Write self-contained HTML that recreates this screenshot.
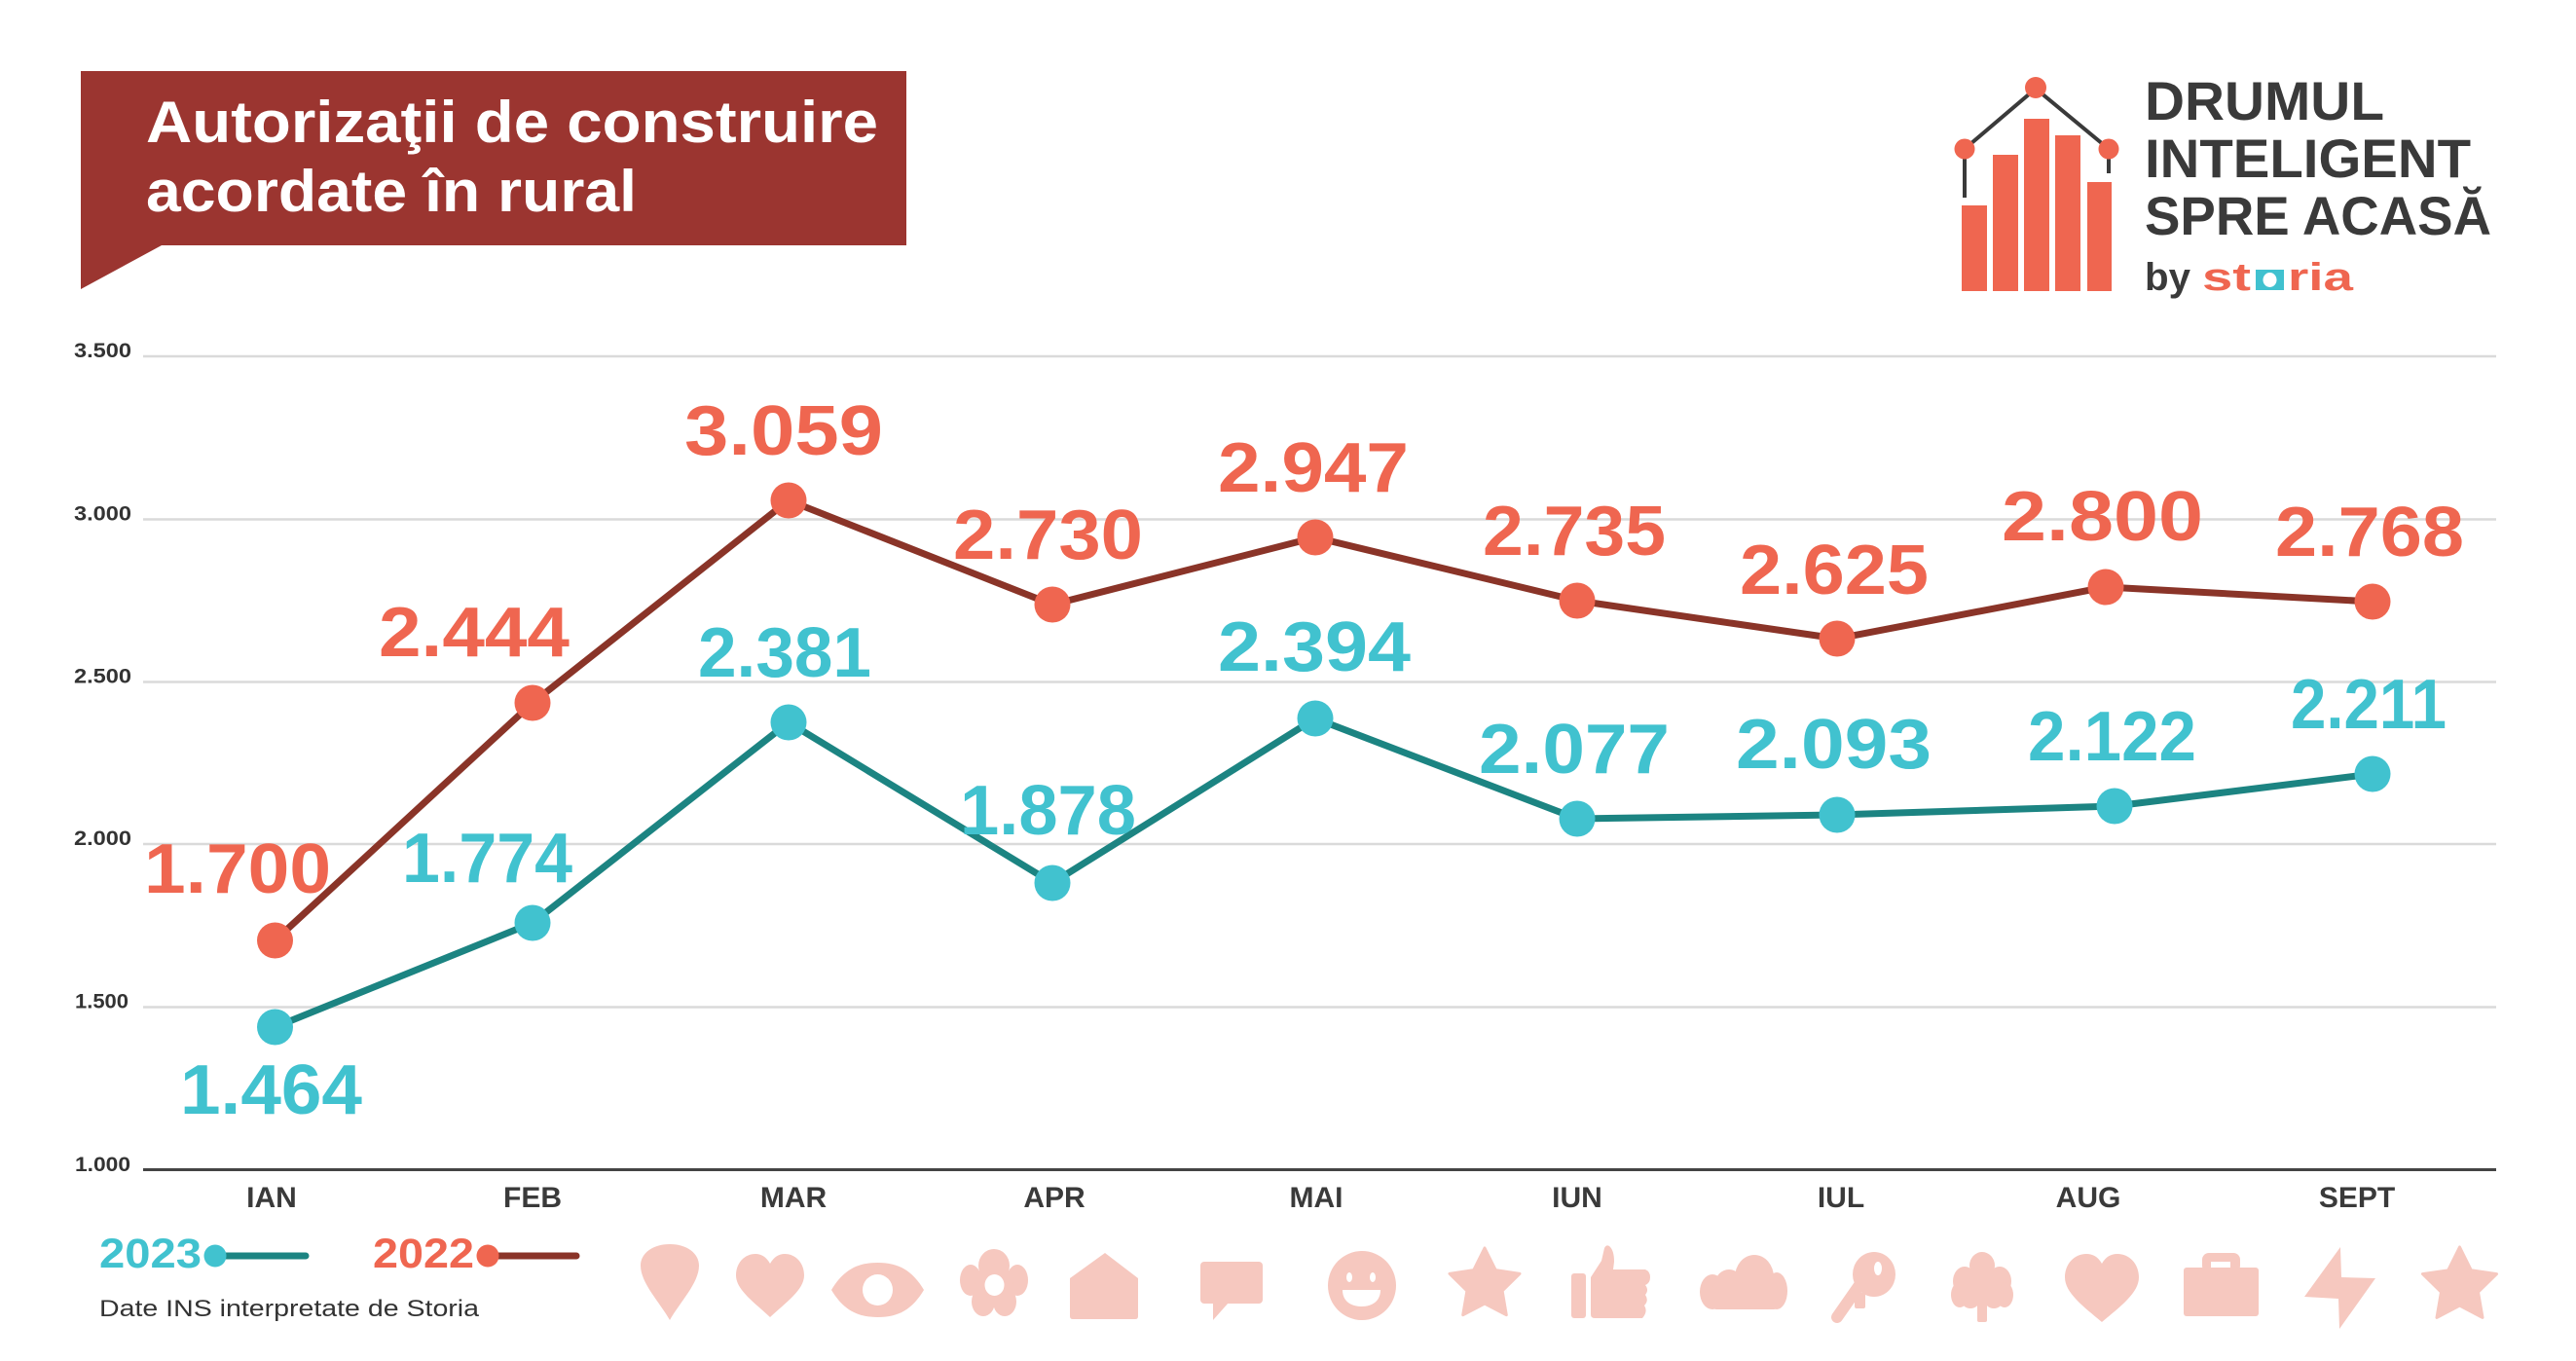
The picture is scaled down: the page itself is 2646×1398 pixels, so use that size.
<!DOCTYPE html>
<html>
<head>
<meta charset="utf-8">
<style>
html,body{margin:0;padding:0;background:#fff;}
svg{display:block;}
text{font-family:"Liberation Sans",sans-serif;}
</style>
</head>
<body>
<svg width="2646" height="1398" viewBox="0 0 2646 1398" xmlns="http://www.w3.org/2000/svg">
<rect width="2646" height="1398" fill="#fff"/>

<!-- Title box -->
<polygon points="83,73 931,73 931,252 166,252 83,297" fill="#9B3530"/>
<text x="150" y="146" font-size="60" font-weight="bold" fill="#fff" textLength="752" lengthAdjust="spacingAndGlyphs">Autorizaţii de construire</text>
<text x="150" y="217" font-size="60" font-weight="bold" fill="#fff" textLength="504" lengthAdjust="spacingAndGlyphs">acordate în rural</text>

<!-- Logo -->
<g fill="#EF6650">
<rect x="2015" y="211" width="26" height="88"/>
<rect x="2047" y="159" width="26" height="140"/>
<rect x="2079" y="122" width="26" height="177"/>
<rect x="2111" y="139" width="26" height="160"/>
<rect x="2144" y="187" width="25" height="112"/>
</g>
<g stroke="#3A3A3A" stroke-width="4" fill="none">
<polyline points="2018,203 2018,153 2091,91 2166,153 2166,178"/>
</g>
<g fill="#EF6650">
<circle cx="2018" cy="153" r="10.5"/>
<circle cx="2091" cy="90" r="11"/>
<circle cx="2166" cy="153" r="10.5"/>
</g>
<g fill="#3A3A3A" font-weight="bold" font-size="56">
<text x="2203" y="123" textLength="246" lengthAdjust="spacingAndGlyphs">DRUMUL</text>
<text x="2203" y="182" textLength="335" lengthAdjust="spacingAndGlyphs">INTELIGENT</text>
<text x="2203" y="241" textLength="356" lengthAdjust="spacingAndGlyphs">SPRE ACASĂ</text>
<text x="2203" y="298" font-size="40" textLength="47" lengthAdjust="spacingAndGlyphs">by</text>
</g>
<g fill="#EF6650" font-weight="bold" font-size="40">
<text x="2262" y="298" textLength="50" lengthAdjust="spacingAndGlyphs">st</text>
<text x="2350" y="298" textLength="67" lengthAdjust="spacingAndGlyphs">ria</text>
</g>
<rect x="2317" y="277" width="29" height="21" fill="#40C1CF"/>
<ellipse cx="2331.5" cy="287.5" rx="7" ry="7.5" fill="#fff"/>

<!-- Gridlines -->
<g stroke="#DADADA" stroke-width="2.5">
<line x1="147" y1="366" x2="2564" y2="366"/>
<line x1="147" y1="533.5" x2="2564" y2="533.5"/>
<line x1="147" y1="700.5" x2="2564" y2="700.5"/>
<line x1="147" y1="867" x2="2564" y2="867"/>
<line x1="147" y1="1034.5" x2="2564" y2="1034.5"/>
</g>
<line x1="147" y1="1201.5" x2="2564" y2="1201.5" stroke="#444" stroke-width="3"/>

<!-- Y labels -->
<g fill="#333" font-weight="bold" font-size="21">
<text x="76" y="367" textLength="59" lengthAdjust="spacingAndGlyphs">3.500</text>
<text x="76" y="534.5" textLength="59" lengthAdjust="spacingAndGlyphs">3.000</text>
<text x="76" y="701.5" textLength="59" lengthAdjust="spacingAndGlyphs">2.500</text>
<text x="76" y="868" textLength="59" lengthAdjust="spacingAndGlyphs">2.000</text>
<text x="77" y="1035.5" textLength="55" lengthAdjust="spacingAndGlyphs">1.500</text>
<text x="77" y="1203" textLength="57" lengthAdjust="spacingAndGlyphs">1.000</text>
</g>

<!-- X labels -->
<g fill="#3A3A3A" font-weight="bold" font-size="30" text-anchor="middle">
<text x="279" y="1240">IAN</text>
<text x="547" y="1240">FEB</text>
<text x="815" y="1240">MAR</text>
<text x="1083" y="1240">APR</text>
<text x="1352" y="1240">MAI</text>
<text x="1620" y="1240">IUN</text>
<text x="1891" y="1240">IUL</text>
<text x="2145" y="1240">AUG</text>
<text x="2421" y="1240">SEPT</text>
</g>

<!-- Series lines -->
<polyline fill="none" stroke="#8A3428" stroke-width="7" stroke-linejoin="round"
 points="282.5,966 547,722 810,514 1081,621 1351,552 1620,617 1887,656 2163,603 2437,618"/>
<polyline fill="none" stroke="#1C8482" stroke-width="7" stroke-linejoin="round"
 points="282.5,1055 547,948 810,742 1081,907 1351,738 1620,841 1887,837 2172,828 2437,795"/>

<g fill="#EF6650">
<circle cx="282.5" cy="966" r="18.5"/>
<circle cx="547" cy="722" r="18.5"/>
<circle cx="810" cy="514" r="18.5"/>
<circle cx="1081" cy="621" r="18.5"/>
<circle cx="1351" cy="552" r="18.5"/>
<circle cx="1620" cy="617" r="18.5"/>
<circle cx="1887" cy="656" r="18.5"/>
<circle cx="2163" cy="603" r="18.5"/>
<circle cx="2437" cy="618" r="18.5"/>
</g>
<g fill="#41C2CF">
<circle cx="282.5" cy="1055" r="18.5"/>
<circle cx="547" cy="948" r="18.5"/>
<circle cx="810" cy="742" r="18.5"/>
<circle cx="1081" cy="907" r="18.5"/>
<circle cx="1351" cy="738" r="18.5"/>
<circle cx="1620" cy="841" r="18.5"/>
<circle cx="1887" cy="837" r="18.5"/>
<circle cx="2172" cy="828" r="18.5"/>
<circle cx="2437" cy="795" r="18.5"/>
</g>

<!-- Data labels 2022 -->
<g fill="#EF6650" font-weight="bold" font-size="72">
<text x="148" y="917" textLength="192" lengthAdjust="spacingAndGlyphs">1.700</text>
<text x="389" y="674" textLength="196" lengthAdjust="spacingAndGlyphs">2.444</text>
<text x="703" y="467" textLength="204" lengthAdjust="spacingAndGlyphs">3.059</text>
<text x="979" y="574" textLength="195" lengthAdjust="spacingAndGlyphs">2.730</text>
<text x="1251" y="505" textLength="196" lengthAdjust="spacingAndGlyphs">2.947</text>
<text x="1523" y="570" textLength="188" lengthAdjust="spacingAndGlyphs">2.735</text>
<text x="1787" y="610" textLength="194" lengthAdjust="spacingAndGlyphs">2.625</text>
<text x="2056" y="555" textLength="207" lengthAdjust="spacingAndGlyphs">2.800</text>
<text x="2337" y="571" textLength="194" lengthAdjust="spacingAndGlyphs">2.768</text>
</g>
<!-- Data labels 2023 -->
<g fill="#41C2CF" font-weight="bold" font-size="72">
<text x="185" y="1144" textLength="187" lengthAdjust="spacingAndGlyphs">1.464</text>
<text x="413" y="906" textLength="175" lengthAdjust="spacingAndGlyphs">1.774</text>
<text x="717" y="695" textLength="178" lengthAdjust="spacingAndGlyphs">2.381</text>
<text x="986" y="857" textLength="181" lengthAdjust="spacingAndGlyphs">1.878</text>
<text x="1251" y="689" textLength="198" lengthAdjust="spacingAndGlyphs">2.394</text>
<text x="1519" y="794" textLength="196" lengthAdjust="spacingAndGlyphs">2.077</text>
<text x="1783" y="789" textLength="201" lengthAdjust="spacingAndGlyphs">2.093</text>
<text x="2083" y="781" textLength="173" lengthAdjust="spacingAndGlyphs">2.122</text>
<text x="2353" y="748" textLength="160" lengthAdjust="spacingAndGlyphs">2.211</text>
</g>

<!-- Legend -->
<text x="102" y="1302" font-size="43" font-weight="bold" fill="#41C2CF" textLength="105" lengthAdjust="spacingAndGlyphs">2023</text>
<line x1="221" y1="1290" x2="314" y2="1290" stroke="#1C8482" stroke-width="7" stroke-linecap="round"/>
<circle cx="221" cy="1290" r="11.5" fill="#41C2CF"/>
<text x="383" y="1302" font-size="43" font-weight="bold" fill="#EF6650" textLength="104" lengthAdjust="spacingAndGlyphs">2022</text>
<line x1="501" y1="1290" x2="592" y2="1290" stroke="#8A3428" stroke-width="7" stroke-linecap="round"/>
<circle cx="501" cy="1290" r="11.5" fill="#EF6650"/>
<text x="102" y="1352" font-size="24" fill="#333" textLength="390" lengthAdjust="spacingAndGlyphs">Date INS interpretate de Storia</text>

<!-- Icons -->
<g fill="#F6C8BF">
<!-- pin -->
<path d="M688,1356 C678,1338 658,1318 658,1300 C658,1287 671,1278 688,1278 C705,1278 718,1287 718,1300 C718,1318 698,1338 688,1356 Z"/>
<!-- heart -->
<path d="M791,1298 C787,1291 782,1288 776,1288 C765,1288 756,1297 756,1310 C756,1325 775,1338 791,1353 C807,1338 826,1325 826,1310 C826,1297 817,1288 806,1288 C800,1288 795,1291 791,1298 Z"/>
<!-- eye -->
<path d="M854,1325 C866,1305 880,1297 901.5,1297 C923,1297 937,1305 949,1325 C937,1345 923,1353 901.5,1353 C880,1353 866,1345 854,1325 Z"/>
<!-- flower -->
<ellipse cx="1021" cy="1300" rx="16" ry="17"/>
<ellipse cx="997" cy="1315" rx="11" ry="16"/>
<ellipse cx="1045" cy="1315" rx="11" ry="16"/>
<ellipse cx="1010" cy="1337" rx="12" ry="15"/>
<ellipse cx="1032" cy="1337" rx="12" ry="15"/>
<circle cx="1021" cy="1318" r="20"/>
<!-- house -->
<path d="M1135,1287 L1169,1313 L1169,1352 Q1169,1355 1166,1355 L1102,1355 Q1099,1355 1099,1352 L1099,1313 Z"/>
<!-- speech bubble -->
<rect x="1233" y="1296" width="64" height="43" rx="4"/>
<polygon points="1246,1338 1246,1356 1262,1338"/>
<!-- smiley -->
<ellipse cx="1399" cy="1320.5" rx="35" ry="35.5"/>
<!-- star 1 -->
<polygon points="1525,1282 1536.2,1304.6 1561,1308.3 1543.1,1325.9 1547.3,1350.7 1525,1339 1502.7,1350.7 1506.9,1325.9 1489,1308.3 1513.8,1304.6" stroke="#F6C8BF" stroke-width="3" stroke-linejoin="round"/>
<!-- thumbs up -->
<rect x="1614" y="1308" width="15" height="46" rx="3"/>
<path d="M1634,1312 L1645,1295 L1648,1282 Q1650,1278 1653,1280 Q1658,1284 1658,1296 L1657,1304 L1690,1304 Q1695,1306 1695,1312 Q1695,1318 1690,1320 Q1694,1325 1690,1330 Q1694,1336 1689,1341 Q1693,1347 1687,1354 L1638,1354 Q1634,1354 1634,1350 Z"/>
<!-- cloud -->
<ellipse cx="1802" cy="1312" rx="20" ry="23"/>
<circle cx="1776" cy="1318" r="14"/>
<ellipse cx="1759" cy="1327" rx="13" ry="18"/>
<ellipse cx="1825" cy="1326" rx="11" ry="19"/>
<rect x="1759" y="1318" width="67" height="27" rx="4"/>
<!-- key -->
<ellipse cx="1925" cy="1309" rx="22" ry="23"/>
<line x1="1910" y1="1320" x2="1887" y2="1353" stroke="#F6C8BF" stroke-width="12" stroke-linecap="round"/>
<rect x="1905" y="1328" width="11" height="16" rx="2"/>
<!-- tree -->
<ellipse cx="2036" cy="1300" rx="13" ry="14"/>
<ellipse cx="2018" cy="1316" rx="12" ry="15"/>
<ellipse cx="2054" cy="1316" rx="12" ry="15"/>
<ellipse cx="2013" cy="1330" rx="9" ry="13"/>
<ellipse cx="2059" cy="1330" rx="9" ry="13"/>
<circle cx="2036" cy="1320" r="20"/>
<circle cx="2024" cy="1334" r="10"/>
<circle cx="2048" cy="1334" r="10"/>
<rect x="2031" y="1330" width="10" height="28" rx="2"/>
<!-- heart 2 -->
<path d="M2159,1298 C2155,1291 2150,1288 2143,1288 C2131,1288 2121,1298 2121,1312 C2121,1328 2140,1342 2159,1358 C2178,1342 2197,1328 2197,1312 C2197,1298 2187,1288 2175,1288 C2168,1288 2163,1291 2159,1298 Z"/>
<!-- bag -->
<rect x="2262" y="1287" width="39" height="20" rx="7"/>
<rect x="2243" y="1302" width="77" height="50" rx="3"/>
<!-- lightning -->
<polygon points="2404,1281 2367,1332 2402,1334 2403,1365 2440,1313 2405,1312"/>
<!-- star 2 -->
<polygon points="2526.5,1281 2538.3,1304.8 2564.5,1308.6 2545.5,1327.2 2550,1353.4 2526.5,1341 2503,1353.4 2507.5,1327.2 2488.5,1308.6 2514.7,1304.8" stroke="#F6C8BF" stroke-width="3" stroke-linejoin="round"/>
</g>
<!-- icon holes -->
<g fill="#fff">
<ellipse cx="901.5" cy="1325" rx="15.5" ry="16"/>
<ellipse cx="1021.5" cy="1320" rx="10" ry="11"/>
<ellipse cx="1386" cy="1312" rx="3" ry="5"/>
<ellipse cx="1410" cy="1312" rx="3" ry="5"/>
<path d="M1379,1325 L1418,1325 C1418,1336 1410,1342 1398.5,1342 C1387,1342 1379,1336 1379,1325 Z"/>
<ellipse cx="1929" cy="1303" rx="4" ry="7"/>
<rect x="2271" y="1296" width="20" height="6"/>
</g>
</svg>
</body>
</html>
